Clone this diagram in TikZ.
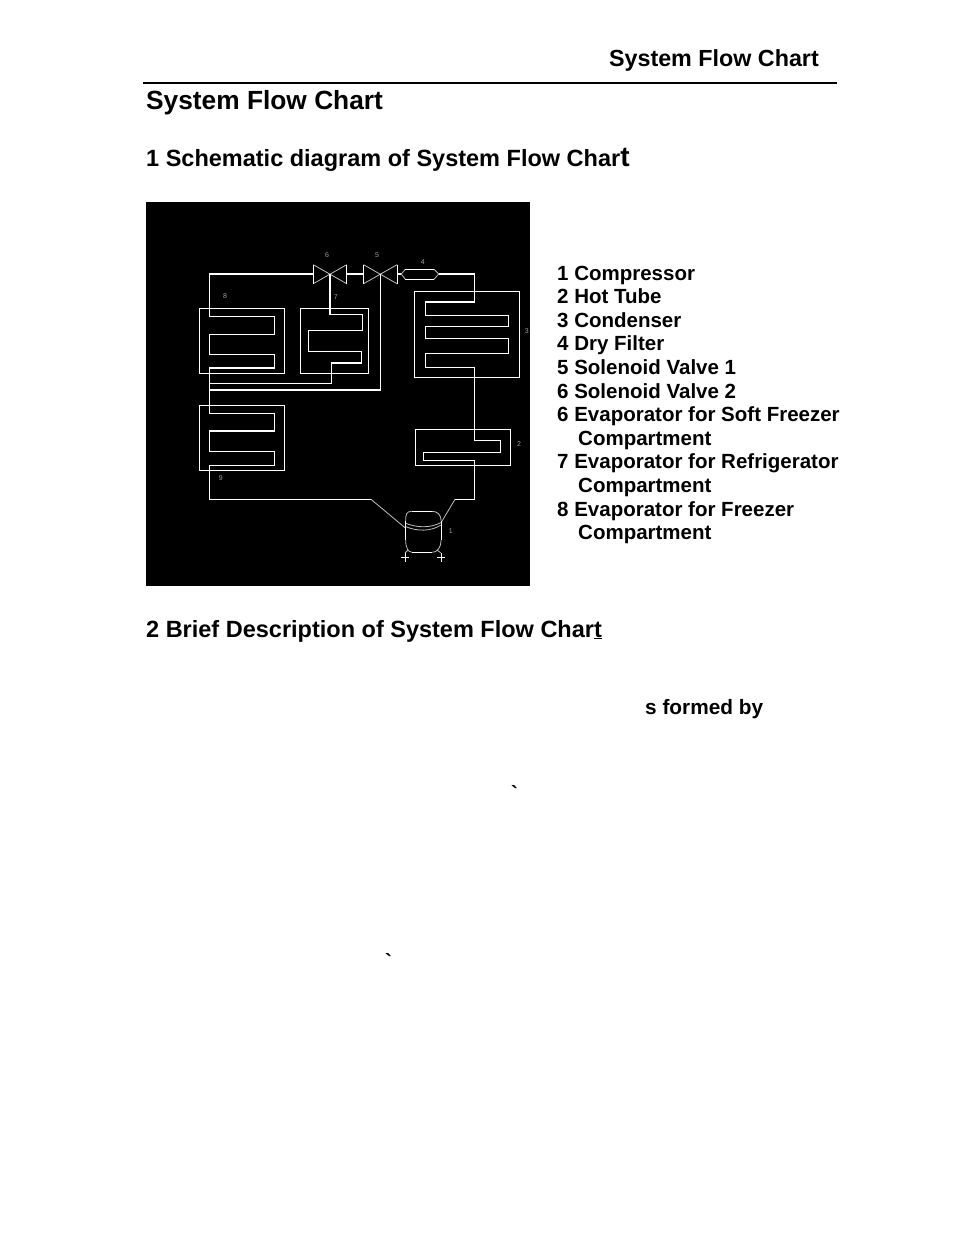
\documentclass[tikz,border=0pt]{standalone}
\usepackage{fontspec}
\setmainfont{Liberation Sans}
\tikzset{
  pipe/.style={white,line width=1.3pt},
  fine/.style={gray!50,line width=0.8pt},
  tag/.style={text=gray!75,font=\fontsize{7}{8}\selectfont,inner sep=0pt},
  heading/.style={anchor=base west,inner sep=0pt,font=\fontsize{23.5}{28}\selectfont\bfseries},
  listline/.style={anchor=base west,inner sep=0pt,font=\fontsize{20.5}{24}\selectfont\bfseries},
}

\begin{document}
\begin{tikzpicture}[x=1pt,y=-1pt]
\useasboundingbox[fill=white] (0,0) rectangle (954,1235);
% page head and headings
\node[heading,anchor=base east,font=\fontsize{23.3}{28}\selectfont\bfseries] (head) at (819,66) {System Flow Chart};
\draw[line width=2pt] (143,82.7) -- (837,82.7);
\node[heading,font=\fontsize{26.3}{31}\selectfont\bfseries] (title) at (146,109.3) {System Flow Chart};
\node[heading] (sec1) at (146,166.7) {1 Schematic diagram of System Flow Char{\fontsize{28}{31}\selectfont t}};
\node[heading] (sec2) at (146,637) {2 Brief Description of System Flow Char\underline{t}};
\node[listline,font=\fontsize{20.8}{24}\selectfont\bfseries] (frag) at (645,714.5) {s formed by};
\node[listline] (tick1) at (511,800) {\textasciigrave};
\node[listline] (tick2) at (385,968) {\textasciigrave};
% schematic
\fill[black] (146,202) rectangle (530,586);
\draw[pipe] (199.3,308.3) rectangle (284.5,373.3);
\draw[pipe] (300.3,308.3) rectangle (368.7,373.3);
\draw[pipe] (414.3,291.3) rectangle (519.7,377.3);
\draw[pipe] (199.3,405.3) rectangle (284.5,470.3);
\draw[pipe] (415.3,429.3) rectangle (510.3,465.3);
% solenoid valves
\foreach \vx in {330,380.3}
{
  \draw[fine] ({\vx-16.7},264.7) -- ({\vx+16.7},283.7) ({\vx-16.7},283.7) -- ({\vx+16.7},264.7);
  \draw[white,line width=1pt] ({\vx-16.7},264.7) -- ({\vx-16.7},283.7) ({\vx+16.7},264.7) -- ({\vx+16.7},283.7);
}
% dry filter
\draw[fine] (401.3,274) -- (405.3,269.3) (401.3,274) -- (405.3,279.3) (434,269.3) -- (438.7,274) -- (434,279.3);
\draw[pipe] (405.3,269.3) -- (434,269.3) (405.3,279.3) -- (434,279.3);
% top line and valve links
\draw[pipe] (209.3,274) -- (313.3,274) (346.7,274) -- (363.6,274) (397,274) -- (401.3,274);
% evaporator 8 then 9
\draw[pipe] (209.3,274) -- (209.3,316.3) -- (274.3,316.3) -- (274.3,334.3) -- (209.3,334.3) -- (209.3,354.3) -- (274.3,354.3) -- (274.3,368) -- (209.3,368)
  -- (209.3,413.3) -- (274.3,413.3) -- (274.3,431) -- (209.3,431) -- (209.3,451.7) -- (274.3,451.7) -- (274.3,465.3) -- (209.3,465.3) -- (209.3,499.3) -- (371,499.3);
% evaporator 7
\draw[pipe] (330,274) -- (330,314.3) -- (362.3,314.3) -- (362.3,330.3) -- (308.3,330.3) -- (308.3,351.3) -- (361.3,351.3) -- (361.3,363) -- (331.3,363) -- (331.3,383.3) -- (209.3,383.3);
% bypass from valve 5
\draw[pipe] (380.3,274) -- (380.3,390) -- (209.3,390);
% condenser and hot tube
\draw[pipe] (438.7,274) -- (474.3,274) -- (474.3,302) -- (425.3,302) -- (425.3,315.3) -- (508.3,315.3) -- (508.3,326.3) -- (425.3,326.3) -- (425.3,338.3) -- (508.3,338.3) -- (508.3,353.3) -- (425.3,353.3) -- (425.3,367.3) -- (474.3,367.3)
  -- (474.3,440.3) -- (500.7,440.3) -- (500.7,452.3) -- (423.3,452.3) -- (423.3,460.3) -- (474.3,460.3) -- (474.3,499.3) -- (455,499.3);
% compressor
\draw[fine] (371,499.3) -- (405.7,528.3) (455,499.3) -- (440.7,523.3);
\draw[fine] (411.7,511.3) .. controls (406,511.3) and (405.7,515) .. (405.7,521);
\draw[fine] (431.7,511.3) .. controls (437,511.3) and (441,514) .. (441,521);
\draw[fine] (405.7,540) .. controls (405.7,548) and (408,552.3) .. (412.3,552.3);
\draw[fine] (441,540) .. controls (441,548) and (437,552.3) .. (432.3,552.3);
\draw[white,line width=1pt] (411.7,511.3) -- (431.7,511.3) (412.3,552.3) -- (432.3,552.3) (405.7,521) -- (405.7,540) (441,521) -- (441,540);
\draw[fine] (405.7,523.3) .. controls (418,528) and (430,528) .. (440.7,522.7);
\draw[fine] (405.7,526.7) .. controls (418,531.5) and (430,531.5) .. (440.7,525.3);
\draw[fine] (408,550) -- (405,553) (437,550) -- (441,553);
\foreach \fx in {405,441}
  \draw[white,line width=0.9pt] ({\fx-4},557.3) -- ({\fx+4},557.3) (\fx,553) -- (\fx,562);
% part numbers
\foreach \n/\lx/\ly in {1/450.7/530.7,2/519/444,3/526.7/330.7,4/422.7/262,5/377/254.7,6/327/255,7/335.7/296.7,8/225/296,9/220.7/477.7}
  \node[tag] (tag\n) at (\lx,\ly) {\n};
% key
\foreach \txt [count=\i] in {1 Compressor,2 Hot Tube,3 Condenser,4 Dry Filter,5 Solenoid Valve 1,6 Solenoid Valve 2,6 Evaporator for Soft Freezer,{\hspace*{21pt}Compartment},7 Evaporator for Refrigerator,{\hspace*{21pt}Compartment},8 Evaporator for Freezer,{\hspace*{21pt}Compartment}}
  \node[listline] (key\i) at (557,{280+23.6*(\i-1)}) {\txt};
\end{tikzpicture}
\end{document}
